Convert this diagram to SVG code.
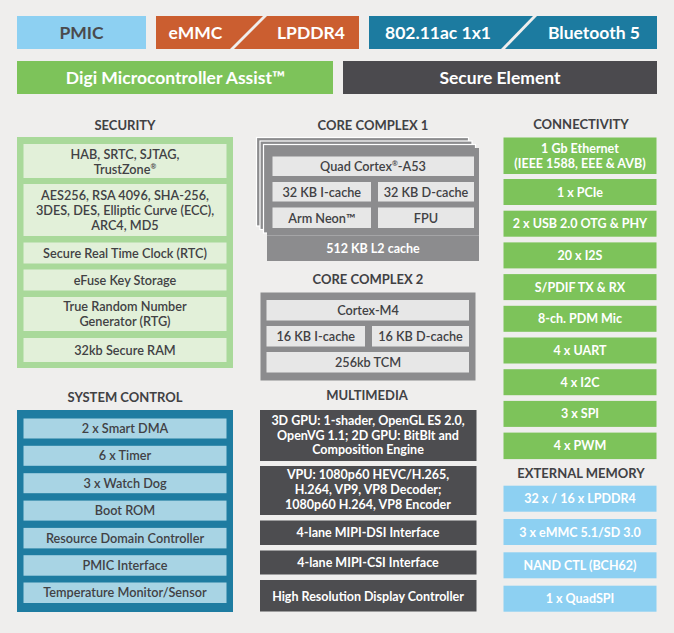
<svg xmlns="http://www.w3.org/2000/svg" width="674" height="633" viewBox="0 0 674 633">
<style>
text{font-family:Lato,"Open Sans","Liberation Sans",sans-serif;text-anchor:middle}
.big{font-size:17.5px;font-weight:700}
.h{font-size:13px;font-weight:700;fill:#414144}
.t{font-size:12.7px;font-weight:600;fill:#414144}
.w{font-size:12.5px;font-weight:700;fill:#ffffff}
.dk{fill:#4a4a4d}
.wt{fill:#ffffff}
.sec{fill:#e2f0d9}
.card{fill:#8c8c8e;stroke:#ffffff;stroke-width:1.2}
.cin{fill:#e7e7e7}
.con{fill:#7dc35a}
.mem{fill:#8dd0f2}
.sys{fill:#a8d4e4}
.mm{fill:#4d4d50}
</style>
<rect x="0" y="0" width="674" height="633" fill="#efeeed"/>

<g id="pmic">
<rect x="17" y="16" width="129" height="33" fill="#8dd0f2"/>
<text x="81.5" y="38.5" class="big dk">PMIC</text>
</g>
<g id="emmc-lpddr4">
<polygon points="156,16 263,16 230,49 156,49" fill="#cb5e30"/>
<polygon points="267,16 359,16 359,49 234,49" fill="#cb5e30"/>
<text x="195.5" y="38.5" class="big wt">eMMC</text>
<text x="311" y="38.5" class="big wt">LPDDR4</text>
</g>
<g id="wifi-bt">
<polygon points="369,16 533,16 501,49 369,49" fill="#1c7ba0"/>
<polygon points="537,16 657,16 657,49 505,49" fill="#1c7ba0"/>
<text x="438" y="38.5" class="big wt">802.11ac 1x1</text>
<text x="594" y="38.5" class="big wt">Bluetooth 5</text>
</g>
<g id="mca">
<rect x="17" y="61" width="316" height="33" fill="#7dc35a"/>
<text x="175.5" y="83.5" class="big wt">Digi Microcontroller Assist™</text>
</g>
<g id="secure-element">
<rect x="343" y="61" width="314" height="33" fill="#4b4a4e"/>
<text x="500" y="83.5" class="big wt">Secure Element</text>
</g>

<g id="security">
<text x="125" y="129.5" class="h">SECURITY</text>
<rect x="17" y="137" width="216" height="231" fill="#a9d99a"/>
<rect x="23.5" y="144" width="203" height="34" class="sec"/>
<text x="125" y="159" class="t">HAB, SRTC, SJTAG,</text>
<text x="125" y="173.5" class="t">TrustZone<tspan font-size="7" dy="-5">®</tspan></text>
<rect x="23.5" y="184" width="203" height="52" class="sec"/>
<text x="125" y="200" class="t">AES256, RSA 4096, SHA-256,</text>
<text x="125" y="215" class="t">3DES, DES, Elliptic Curve (ECC),</text>
<text x="125" y="230" class="t">ARC4, MD5</text>
<rect x="23.5" y="242.5" width="203" height="21" class="sec"/>
<text x="125" y="257.5" class="t">Secure Real Time Clock (RTC)</text>
<rect x="23.5" y="269.5" width="203" height="21" class="sec"/>
<text x="125" y="284.5" class="t">eFuse Key Storage</text>
<rect x="23.5" y="297" width="203" height="34" class="sec"/>
<text x="125" y="311" class="t">True Random Number</text>
<text x="125" y="326" class="t">Generator (RTG)</text>
<rect x="23.5" y="338" width="203" height="24" class="sec"/>
<text x="125" y="354.5" class="t">32kb Secure RAM</text>
</g>

<g id="core-complex-1">
<text x="373" y="129.5" class="h">CORE COMPLEX 1</text>
<rect x="256.5" y="137.5" width="212" height="88.5" class="card"/>
<rect x="260" y="141" width="212" height="88.5" class="card"/>
<rect x="263.5" y="144.5" width="212" height="88.5" class="card"/>
<rect x="267" y="148" width="212" height="113" fill="#8c8c8e"/>
<rect x="272.5" y="156.5" width="201.5" height="19.5" class="cin"/>
<text x="373" y="171" class="t">Quad Cortex<tspan font-size="7" dy="-5">®</tspan><tspan dy="5">-A53</tspan></text>
<rect x="272.5" y="182" width="98.5" height="19.5" class="cin"/>
<text x="321.75" y="196.5" class="t">32 KB I-cache</text>
<rect x="378" y="182" width="96" height="19.5" class="cin"/>
<text x="426" y="196.5" class="t">32 KB D-cache</text>
<rect x="272.5" y="207.5" width="98.5" height="20.5" class="cin"/>
<text x="321.75" y="222.5" class="t">Arm Neon™</text>
<rect x="378" y="207.5" width="96" height="20.5" class="cin"/>
<text x="426" y="222.5" class="t">FPU</text>
<rect x="267" y="235" width="212" height="1" fill="#a5a5a7"/>
<text x="373" y="253" class="w">512 KB L2 cache</text>
</g>

<g id="core-complex-2">
<text x="368" y="283.5" class="h">CORE COMPLEX 2</text>
<rect x="260.5" y="292.5" width="215" height="88" fill="#8c8c8e"/>
<rect x="266.5" y="300" width="202.5" height="20.5" class="cin"/>
<text x="368" y="315" class="t">Cortex-M4</text>
<rect x="266.5" y="326" width="98.5" height="20.5" class="cin"/>
<text x="315.75" y="341" class="t">16 KB I-cache</text>
<rect x="372" y="326" width="97" height="20.5" class="cin"/>
<text x="420.5" y="341" class="t">16 KB D-cache</text>
<rect x="266.5" y="352" width="202.5" height="20.5" class="cin"/>
<text x="368" y="367" class="t">256kb TCM</text>
</g>

<g id="connectivity">
<text x="581" y="128.5" class="h">CONNECTIVITY</text>
<rect x="503.5" y="137.5" width="153" height="36.5" class="con"/>
<text x="580" y="152.5" class="w">1 Gb Ethernet</text>
<text x="580" y="167.5" class="w">(IEEE 1588, EEE &amp; AVB)</text>
<rect x="503.5" y="179" width="153" height="26" class="con"/>
<text x="580" y="196.5" class="w">1 x PCIe</text>
<rect x="503.5" y="210.7" width="153" height="26" class="con"/>
<text x="580" y="228.2" class="w">2 x USB 2.0 OTG &amp; PHY</text>
<rect x="503.5" y="242.4" width="153" height="26" class="con"/>
<text x="580" y="259.9" class="w">20 x I2S</text>
<rect x="503.5" y="274.1" width="153" height="26" class="con"/>
<text x="580" y="291.6" class="w">S/PDIF TX &amp; RX</text>
<rect x="503.5" y="305.8" width="153" height="26" class="con"/>
<text x="580" y="323.3" class="w">8-ch. PDM Mic</text>
<rect x="503.5" y="337.5" width="153" height="26" class="con"/>
<text x="580" y="355" class="w">4 x UART</text>
<rect x="503.5" y="369.2" width="153" height="26" class="con"/>
<text x="580" y="386.7" class="w">4 x I2C</text>
<rect x="503.5" y="400.9" width="153" height="26" class="con"/>
<text x="580" y="418.4" class="w">3 x SPI</text>
<rect x="503.5" y="432.6" width="153" height="26.5" class="con"/>
<text x="580" y="450.3" class="w">4 x PWM</text>
</g>

<g id="external-memory">
<text x="581" y="478" class="h">EXTERNAL MEMORY</text>
<rect x="503.5" y="485.7" width="153" height="26" class="mem"/>
<text x="580" y="503.2" class="w">32 x / 16 x LPDDR4</text>
<rect x="503.5" y="519" width="153" height="26" class="mem"/>
<text x="580" y="536.5" class="w">3 x eMMC 5.1/SD 3.0</text>
<rect x="503.5" y="552.3" width="153" height="26" class="mem"/>
<text x="580" y="569.8" class="w">NAND CTL (BCH62)</text>
<rect x="503.5" y="585.7" width="153" height="26" class="mem"/>
<text x="580" y="603.2" class="w">1 x QuadSPI</text>
</g>

<g id="system-control">
<text x="125" y="401.5" class="h">SYSTEM CONTROL</text>
<rect x="17" y="410" width="216" height="202" fill="#1e7ca1"/>
<rect x="23.5" y="418.5" width="203" height="20" class="sys"/>
<text x="125" y="433" class="t">2 x Smart DMA</text>
<rect x="23.5" y="445.8" width="203" height="20" class="sys"/>
<text x="125" y="460.3" class="t">6 x Timer</text>
<rect x="23.5" y="473.2" width="203" height="20" class="sys"/>
<text x="125" y="487.7" class="t">3 x Watch Dog</text>
<rect x="23.5" y="500.6" width="203" height="20" class="sys"/>
<text x="125" y="515.1" class="t">Boot ROM</text>
<rect x="23.5" y="527.9" width="203" height="20.5" class="sys"/>
<text x="125" y="542.6" class="t">Resource Domain Controller</text>
<rect x="23.5" y="555.2" width="203" height="20.5" class="sys"/>
<text x="125" y="569.9" class="t">PMIC Interface</text>
<rect x="23.5" y="582.5" width="203" height="20.5" class="sys"/>
<text x="125" y="597.2" class="t">Temperature Monitor/Sensor</text>
</g>

<g id="multimedia">
<text x="367" y="399.5" class="h">MULTIMEDIA</text>
<rect x="260" y="410" width="216.5" height="51" class="mm"/>
<text x="368" y="425" class="w">3D GPU: 1-shader, OpenGL ES 2.0,</text>
<text x="368" y="439.5" class="w">OpenVG 1.1; 2D GPU: BitBlt and</text>
<text x="368" y="454" class="w">Composition Engine</text>
<rect x="260" y="466" width="216.5" height="49" class="mm"/>
<text x="368" y="478.5" class="w">VPU: 1080p60 HEVC/H.265,</text>
<text x="368" y="493.5" class="w">H.264, VP9, VP8 Decoder;</text>
<text x="368" y="508.5" class="w">1080p60 H.264, VP8 Encoder</text>
<rect x="260" y="520.5" width="216.5" height="24.5" class="mm"/>
<text x="368" y="537" class="w">4-lane MIPI-DSI Interface</text>
<rect x="260" y="550.5" width="216.5" height="24" class="mm"/>
<text x="368" y="567" class="w">4-lane MIPI-CSI Interface</text>
<rect x="260" y="580" width="216.5" height="31.5" class="mm"/>
<text x="368" y="600.5" class="w">High Resolution Display Controller</text>
</g>
</svg>
